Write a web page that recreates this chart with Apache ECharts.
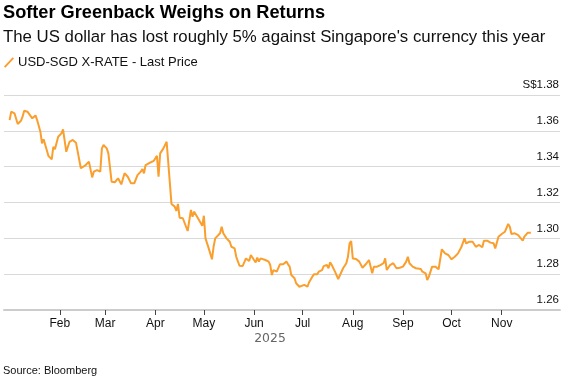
<!DOCTYPE html>
<html>
<head>
<meta charset="utf-8">
<script src="https://cdn.jsdelivr.net/npm/echarts@6/dist/echarts.min.js"></script>
<style>
html,body{margin:0;padding:0;background:#fff;}
#chart{width:568px;height:380px;}
</style>
</head>
<body>
<div id="chart"></div>
<script>
// Day of year 2025 (0 = Jan 1)
const days = [
  0,1,3,5,7,8,9,11,12,14,
  15,16,17,19,20,21,22,24,25,26,
  27,28,30,32,33,35,37,39,40,41,
  42,44,47,49,50,51,52,54,55,56,
  57,58,60,61,63,64,65,67,68,69,
  71,73,75,77,79,81,82,83,84,85,
  86,89,90,91,92,93,95,97,100,102,
  103,104,105,107,110,112,113,114,117,119,
  120,121,123,125,126,127,128,130,131,132,
  134,135,136,137,139,140,141,142,144,145,
  146,148,149,151,152,153,154,155,156,158,
  160,161,162,163,165,166,167,168,169,171,
  172,173,174,176,177,178,179,180,182,184,
  185,187,188,190,191,193,194,196,197,198,
  199,201,203,204,206,208,209,210,211,212,
  214,216,218,220,222,224,225,227,229,231,
  232,233,235,237,239,241,243,245,246,247,
  249,251,254,255,256,257,258,259,261,263,
  265,267,269,271,273,275,277,279,281,282,
  284,286,288,289,290,292,293,295,297,299,
  300,302,304,306,308,309,310,312,314,315,
  317,318,320,321,322
];
const usdSgd = [
  1.366,1.3707,1.3698,1.3638,1.3656,1.3679,1.3712,1.3707,1.3698,1.367,
  1.3675,1.3686,1.366,1.3595,1.353,1.3553,1.3545,1.3459,1.3452,1.3441,
  1.3511,1.3497,1.3567,1.3586,1.3608,1.3483,1.3539,1.3549,1.3553,1.3534,
  1.3539,1.3391,1.3409,1.3428,1.3433,1.334,1.3372,1.3381,1.3391,1.3372,
  1.3502,1.3521,1.3502,1.3474,1.3316,1.3325,1.3313,1.3335,1.3344,1.3301,
  1.3363,1.3344,1.3307,1.3307,1.3353,1.3372,1.3387,1.3363,1.3409,1.34,
  1.3419,1.3432,1.3441,1.3461,1.3344,1.3474,1.3502,1.3539,1.3192,1.3177,
  1.3153,1.3192,1.3115,1.3112,1.3041,1.3158,1.3121,1.3149,1.3102,1.307,
  1.3126,1.30,1.2944,1.2883,1.2953,1.30,1.2991,1.3028,1.3065,1.3028,
  1.30,1.3003,1.2981,1.2953,1.2944,1.2897,1.2907,1.2847,1.2846,1.2851,
  1.2888,1.2873,1.2907,1.2879,1.2866,1.2892,1.287,1.2888,1.2897,1.2879,
  1.287,1.2851,1.2795,1.2823,1.2814,1.2805,1.2855,1.2861,1.2855,1.287,
  1.2855,1.2842,1.2795,1.2777,1.2749,1.2755,1.273,1.2721,1.274,1.273,
  1.2755,1.2786,1.2799,1.2799,1.2814,1.2823,1.2845,1.2851,1.2833,1.2866,
  1.2851,1.2814,1.2773,1.278,1.2833,1.2861,1.2897,1.2972,1.2985,1.2888,
  1.2885,1.287,1.2836,1.2855,1.2879,1.2805,1.2842,1.2842,1.2851,1.2861,
  1.2888,1.2823,1.2851,1.2861,1.2833,1.2836,1.2842,1.287,1.2897,1.2861,
  1.2842,1.2833,1.2829,1.2814,1.2823,1.2805,1.2767,1.2786,1.2842,1.2842,
  1.2827,1.2939,1.2916,1.2907,1.2883,1.2897,1.2916,1.295,1.30,1.2972,
  1.2981,1.2981,1.2953,1.2944,1.2963,1.295,1.2987,1.2987,1.2976,1.2972,
  1.2944,1.3009,1.3024,1.3037,1.308,1.3065,1.3024,1.3028,1.3019,1.3022,
  1.2987,1.3009,1.3031,1.3028,1.3031
];
const monthDays = [31,59,90,120,151,181,212,243,273,304];
const monthLabels = ['Feb','Mar','Apr','May','Jun','Jul','Aug','Sep','Oct','Nov'];
const yTicks = [1.26,1.28,1.30,1.32,1.34,1.36,1.38];

const titleText = 'Softer Greenback Weighs on Returns';
const subtitleText = "The US dollar has lost roughly 5% against Singapore's currency this year";
const seriesName = 'USD-SGD X-RATE - Last Price';
const sourceText = 'Source: Bloomberg';
const yearText = '2025';

const n = Math.min(days.length, usdSgd.length);
const seriesData = [];
for (let i = 0; i < n; i++) seriesData.push([days[i], usdSgd[i]]);

const FONT = '"Liberation Sans", Arial, Helvetica, sans-serif';
const chart = echarts.init(document.getElementById('chart'), null, {renderer: 'canvas'});
chart.setOption({
  animation: false,
  backgroundColor: '#ffffff',
  title: [
    {text: titleText, left: 3, top: 4, padding: 0,
     textStyle: {fontFamily: FONT, fontSize: 18.2, fontWeight: 'bold', color: '#000'}},
    {text: subtitleText, left: 3, top: 29, padding: 0,
     textStyle: {fontFamily: FONT, fontSize: 16.8, fontWeight: 'normal', color: '#111'}},
    {text: sourceText, left: 3, top: 365, padding: 0,
     textStyle: {fontFamily: FONT, fontSize: 11, fontWeight: 'normal', color: '#111'}}
  ],
  legend: {
    left: 4, top: 56, padding: 0, itemGap: 8,
    itemWidth: 10, itemHeight: 11,
    icon: 'path://M0,9.2 L8.6,0 L10,1.3 L1.4,10.5 Z',
    textStyle: {fontFamily: FONT, fontSize: 13, color: '#111', padding: [0,0,0,-1]},
    data: [{name: seriesName}]
  },
  graphic: [
    {type: 'text', x: 270, y: 339,
     style: {text: yearText, textAlign: 'center', textVerticalAlign: 'middle',
             font: '12.4px "DejaVu Sans", sans-serif', fill: '#666'}}
  ],
  grid: {left: 4, right: 8, top: 95, bottom: 70, containLabel: false},
  xAxis: {
    type: 'value',
    min: -3.47, max: 340,
    axisLine: {show: true, lineStyle: {color: '#cccccc', width: 2}},
    axisTick: {show: true, customValues: monthDays, length: 5, lineStyle: {color: '#444', width: 1}},
    axisLabel: {
      show: true, customValues: monthDays, margin: 8,
      fontFamily: FONT, fontSize: 12, color: '#111',
      formatter: function (v) {
        const i = monthDays.indexOf(Math.round(v));
        return i >= 0 ? monthLabels[i] : '';
      }
    },
    splitLine: {show: false}
  },
  yAxis: {
    type: 'value',
    position: 'right',
    min: yTicks[0], max: yTicks[yTicks.length - 1], interval: 0.02,
    axisLine: {show: false},
    axisTick: {show: false},
    axisLabel: {
      inside: true, margin: 1, verticalAlign: 'bottom', padding: [0, 0, 4, 0],
      fontFamily: FONT, fontSize: 11.5, color: '#111',
      formatter: function (v) {
        const s = v.toFixed(2);
        return Math.abs(v - 1.38) < 1e-6 ? 'S$' + s : s;
      }
    },
    splitLine: {show: true, lineStyle: {color: '#d9d9d9', width: 1}}
  },
  series: [{
    name: seriesName,
    type: 'line',
    data: seriesData,
    showSymbol: false,
    symbol: 'none',
    lineStyle: {color: '#fa9f2e', width: 2},
    itemStyle: {color: '#fa9f2e'},
    z: 3
  }]
});
</script>
</body>
</html>
